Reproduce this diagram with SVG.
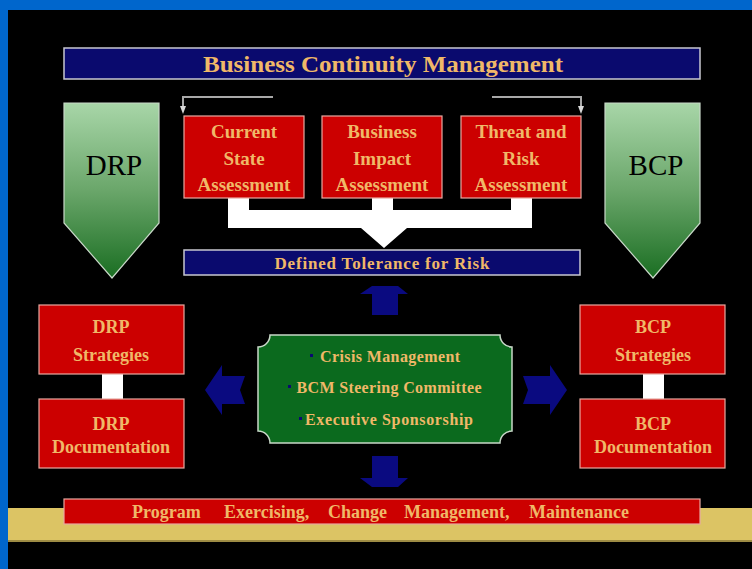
<svg xmlns="http://www.w3.org/2000/svg" width="752" height="569" viewBox="0 0 752 569">
<defs>
<linearGradient id="gGreen" x1="0" y1="0" x2="0" y2="1">
<stop offset="0" stop-color="#a8d6a8"/>
<stop offset="0.5" stop-color="#6aa66a"/>
<stop offset="1" stop-color="#1a6e22"/>
</linearGradient>
<marker id="tri" markerWidth="8" markerHeight="8" refX="4" refY="4" orient="auto" markerUnits="userSpaceOnUse">
<path d="M0,1 L8,4 L0,7 Z" fill="#d8d8d8"/>
</marker>
<style>
.bar{fill:#0a0a6e;stroke:#c8c8d0;stroke-width:1.5}
.red{fill:#cc0000;stroke:#e8a8a0;stroke-width:1.2}
.tan{fill:#f0b868;font-family:"Liberation Serif",serif;font-weight:bold;text-anchor:middle}
.big{fill:#000;font-family:"Liberation Serif",serif;font-size:29px;text-anchor:middle}
.navy{fill:#0a0a80}
.white{fill:#ffffff}
.gray{fill:none;stroke:#a8a8a8;stroke-width:2}
.bul{fill:#0a0a70}
</style>
</defs>
<rect x="0" y="0" width="752" height="569" fill="#0066cc"/>
<rect x="8" y="10" width="744" height="559" fill="#000"/>
<rect x="8" y="508" width="744" height="34" fill="#dcc464"/>
<line x1="8" y1="541" x2="752" y2="541" stroke="#8a7a3a" stroke-width="1.5"/>

<g id="title">
<rect class="bar" x="64" y="48" width="636" height="31"/>
<text class="tan" x="383" y="72" font-size="24" fill="#e8b060" textLength="360" lengthAdjust="spacingAndGlyphs">Business Continuity Management</text>
</g>

<g id="drp">
<path d="M64,103 H159 V223 L112,278 L64,223 Z" fill="url(#gGreen)" stroke="#c8d8c8" stroke-width="1.2"/>
<text class="big" x="114" y="175">DRP</text>
</g>
<g id="bcp">
<path d="M605,103 H700 V223 L653,278 L605,223 Z" fill="url(#gGreen)" stroke="#c8d8c8" stroke-width="1.2"/>
<text class="big" x="656" y="175">BCP</text>
</g>

<g id="connectors">
<path class="gray" d="M273,97 H183 V110" marker-end="url(#tri)"/>
<path class="gray" d="M492,97 H581 V110" marker-end="url(#tri)"/>
<path class="white" d="M228,198 H249 V210 H372 V198 H393 V210 H511 V198 H532 V228 H407 L384,248 L361,228 H228 Z"/>
<polygon class="navy" points="372,286 398,286 408,294 398,294 398,315 372,315 372,294 360,294"/>
<polygon class="navy" points="372,456 398,456 398,478 408,478 398,487 372,487 360,478 372,478"/>
<polygon class="navy" points="205,390 222,365 222,376 245,376 240,390 245,404 222,404 222,415"/>
<polygon class="navy" points="567,390 550,365 550,376 523,376 528,390 523,404 550,404 550,415"/>
<rect class="white" x="102" y="374" width="21" height="25"/>
<rect class="white" x="643" y="374" width="21" height="25"/>
</g>

<g id="current-state">
<rect class="red" x="184" y="116" width="120" height="82"/>
<text class="tan" font-size="19" x="244" y="138">Current</text>
<text class="tan" font-size="19" x="244" y="165">State</text>
<text class="tan" font-size="19" x="244" y="191">Assessment</text>
</g>
<g id="business-impact">
<rect class="red" x="322" y="116" width="120" height="82"/>
<text class="tan" font-size="19" x="382" y="138">Business</text>
<text class="tan" font-size="19" x="382" y="165">Impact</text>
<text class="tan" font-size="19" x="382" y="191">Assessment</text>
</g>
<g id="threat-risk">
<rect class="red" x="461" y="116" width="120" height="82"/>
<text class="tan" font-size="19" x="521" y="138">Threat and</text>
<text class="tan" font-size="19" x="521" y="165">Risk</text>
<text class="tan" font-size="19" x="521" y="191">Assessment</text>
</g>

<g id="tolerance">
<rect class="bar" x="184" y="250" width="396" height="25"/>
<text class="tan" font-size="17" x="382" y="269" textLength="215" lengthAdjust="spacing">Defined Tolerance for Risk</text>
</g>

<g id="bcm-core">
<path d="M270,335 H500 A12,12 0 0 0 512,347 V431 A12,12 0 0 0 500,443 H270 A12,12 0 0 0 258,431 V347 A12,12 0 0 0 270,335 Z" fill="#0b6a1e" stroke="#c8d8c8" stroke-width="1.5"/>
<rect class="bul" x="310" y="354" width="3" height="3"/>
<rect class="bul" x="288" y="385" width="3" height="3"/>
<rect class="bul" x="299" y="417" width="3" height="3"/>
<text class="tan" font-size="16" x="390" y="362" textLength="140" lengthAdjust="spacing">Crisis Management</text>
<text class="tan" font-size="16" x="389" y="393" textLength="185" lengthAdjust="spacing">BCM Steering Committee</text>
<text class="tan" font-size="16" x="389" y="425" textLength="168" lengthAdjust="spacing">Executive Sponsorship</text>
</g>

<g id="drp-strategies">
<rect class="red" x="39" y="305" width="145" height="69"/>
<text class="tan" font-size="18" x="111" y="333">DRP</text>
<text class="tan" font-size="18" x="111" y="361">Strategies</text>
</g>
<g id="drp-documentation">
<rect class="red" x="39" y="399" width="145" height="69"/>
<text class="tan" font-size="18" x="111" y="430">DRP</text>
<text class="tan" font-size="18" x="111" y="453">Documentation</text>
</g>
<g id="bcp-strategies">
<rect class="red" x="580" y="305" width="145" height="69"/>
<text class="tan" font-size="18" x="653" y="333">BCP</text>
<text class="tan" font-size="18" x="653" y="361">Strategies</text>
</g>
<g id="bcp-documentation">
<rect class="red" x="580" y="399" width="145" height="69"/>
<text class="tan" font-size="18" x="653" y="430">BCP</text>
<text class="tan" font-size="18" x="653" y="453">Documentation</text>
</g>

<g id="program">
<rect class="red" x="64" y="499" width="636" height="25"/>
<text class="tan" font-size="18" y="518" style="text-anchor:start"><tspan x="132">Program</tspan><tspan x="224">Exercising,</tspan><tspan x="328">Change</tspan><tspan x="404">Management,</tspan><tspan x="529">Maintenance</tspan></text>
</g>
</svg>
